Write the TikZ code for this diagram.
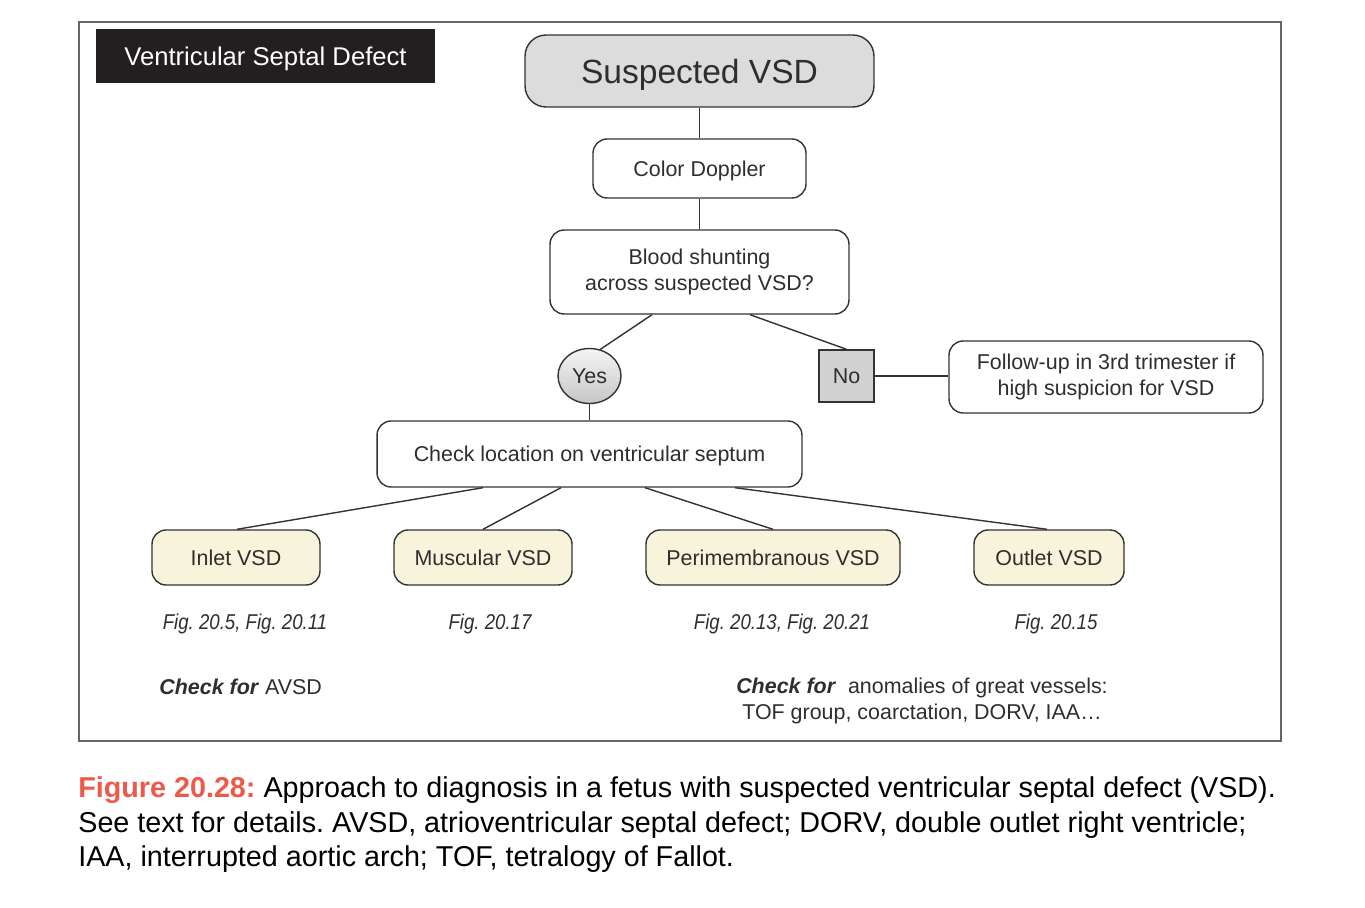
\documentclass[tikz,border=0pt]{standalone}
\usepackage{fontspec}
\setmainfont{Liberation Sans}
\newfontfamily\condfont[FakeStretch=0.87]{Liberation Sans}
\usetikzlibrary{shapes.geometric}
\frenchspacing
\definecolor{txt}{HTML}{2E2E2E}
\definecolor{linec}{HTML}{333333}
\definecolor{framec}{HTML}{666666}
\definecolor{titlebg}{HTML}{231F20}
\definecolor{suspfill}{HTML}{DCDCDC}
\definecolor{nofill}{HTML}{D2D2D2}
\definecolor{cream}{HTML}{F8F4DC}
\definecolor{capred}{HTML}{EE5A4A}
\tikzset{
  basebox/.style={draw=linec, line width=0.8pt, rounded corners=8pt, fill=white, text=txt,
    font=\fontsize{12.2}{15.3}\selectfont, inner sep=0pt, align=center},
  oneline/.style={text height=#1, text depth=0pt},
  oneline/.default=8.74pt,
  typebox/.style={basebox, oneline, fill=cream, minimum height=1.1cm},
  conn/.style={draw=linec, line width=0.8pt},
  figref/.style={text=txt, font=\condfont\itshape\fontsize{12.2}{15.3}\selectfont, inner sep=0pt, oneline},
  note/.style={text=txt, font=\fontsize{12.2}{15.3}\selectfont, inner sep=0pt, align=center},
  caption/.style={text=black, font=\fontsize{16.35}{20}\selectfont, inner sep=0pt, anchor=base west}
}
\begin{document}
\begin{tikzpicture}[x=0.02cm, y=-0.02cm]
\useasboundingbox (0,0) rectangle (1365,908);
\fill[white] (0,0) rectangle (1365,908);
\draw[framec, line width=1pt] (79,22) rectangle (1281,741);

\node[fill=titlebg, text=white, minimum width=6.78cm, minimum height=1.08cm, inner sep=0pt, oneline=10.45pt,
      font=\fontsize{14.6}{17}\selectfont] (title) at (265.5,56) {Ventricular Septal Defect};

\node[basebox, oneline=13.7pt, fill=suspfill, rounded corners=12pt, minimum width=6.98cm, minimum height=1.44cm,
      font=\fontsize{19.1}{22}\selectfont] (susp) at (699.5,71) {Suspected VSD};
\node[basebox, oneline, minimum width=4.26cm, minimum height=1.18cm] (doppler) at (699.5,168.5) {Color Doppler};
\node[basebox, minimum width=5.98cm, minimum height=1.68cm] (blood) at (699.5,272) {Blood shunting\\across suspected VSD?};
\node[ellipse, draw=linec, line width=0.8pt, top color=gray!8, bottom color=gray!45, text=txt,
      font=\fontsize{12.2}{15.3}\selectfont, inner sep=0pt, minimum width=1.26cm, minimum height=1.1cm] (yes) at (589.5,376) {Yes};
\node[draw=linec, line width=0.8pt, fill=nofill, text=txt, font=\fontsize{12.2}{15.3}\selectfont,
      inner sep=0pt, minimum width=1.1cm, minimum height=1.04cm] (no) at (846.5,376) {No};
\node[basebox, minimum width=6.28cm, minimum height=1.44cm] (follow) at (1106,377) {Follow-up in 3rd trimester if\\high suspicion for VSD};
\node[basebox, oneline, minimum width=8.5cm, minimum height=1.32cm] (check) at (589.5,454) {Check location on ventricular septum};

\node[typebox, minimum width=3.36cm] (inlet) at (236,557.5) {Inlet VSD};
\node[typebox, minimum width=3.56cm] (musc) at (483,557.5) {Muscular VSD};
\node[typebox, minimum width=5.08cm] (peri) at (773,557.5) {Perimembranous VSD};
\node[typebox, minimum width=3.0cm] (outlet) at (1049,557.5) {Outlet VSD};

\node[figref] (f1) at (245,622) {Fig. 20.5, Fig. 20.11};
\node[figref] (f2) at (490,622) {Fig. 20.17};
\node[figref] (f3) at (782,622) {Fig. 20.13, Fig. 20.21};
\node[figref] (f4) at (1056,622) {Fig. 20.15};

\node[note, anchor=west, oneline] (c1) at (159,687) {\textbf{\textit{Check for}} AVSD};
\node[note] (c2) at (922,701) {\textbf{\textit{Check for}}\ \ anomalies of great vessels:\\TOF group, coarctation, DORV, IAA\ldots};

\draw[conn] (susp.south) -- (doppler.north);
\draw[conn] (doppler.south) -- (blood.north);
\draw[conn] (blood.south -| 652,0) -- (yes.68);
\draw[conn] (blood.south -| 750,0) -- (no.north);
\draw[conn] (no.east) -- (no.east -| follow.west);
\draw[conn] (yes.south) -- (check.north -| yes.south);
\draw[conn] (check.south -| 483,0) -- (inlet.north -| 237,0);
\draw[conn] (check.south -| 561,0) -- (musc.north -| 483,0);
\draw[conn] (check.south -| 645,0) -- (peri.north -| 773,0);
\draw[conn] (check.south -| 735,0) -- (outlet.north -| 1047,0);

\node[caption] (cap1) at (78,797) {{\color{capred}\bfseries Figure 20.28:} Approach to diagnosis in a fetus with suspected ventricular septal defect (VSD).};
\node[caption] (cap2) at (78,832) {See text for details. AVSD, atrioventricular septal defect; DORV, double outlet right ventricle;};
\node[caption] (cap3) at (78,866) {IAA, interrupted aortic arch; TOF, tetralogy of Fallot.};
\end{tikzpicture}
\end{document}
